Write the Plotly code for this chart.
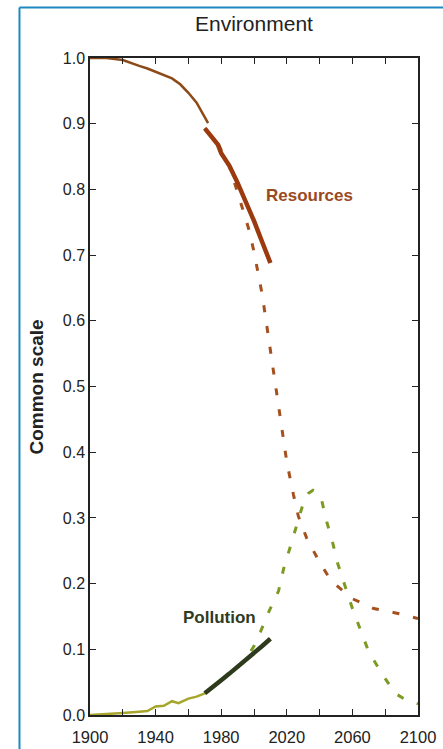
import plotly.graph_objects as go

# Resources
res_hist_years = [1900, 1910, 1920, 1925, 1930, 1935, 1940, 1945, 1950, 1955, 1960, 1965, 1972]
res_hist_vals = [1.0, 1.0, 0.997, 0.992, 0.988, 0.984, 0.979, 0.975, 0.969, 0.960, 0.947, 0.932, 0.901]
res_data_years = [1970, 1975, 1978, 1980, 1985, 1990, 1995, 2000, 2005, 2010]
res_data_vals = [0.893, 0.876, 0.868, 0.855, 0.836, 0.810, 0.783, 0.752, 0.720, 0.688]
res_model_years = [1970, 1978, 1985, 1989, 1993, 1997, 2000, 2005, 2010, 2015, 2020, 2024, 2027,
                   2032, 2039, 2047, 2060, 2073, 2087, 2100]
res_model_vals = [0.893, 0.870, 0.835, 0.804, 0.771, 0.738, 0.705, 0.640, 0.555, 0.470, 0.385,
                  0.336, 0.303, 0.270, 0.237, 0.204, 0.177, 0.162, 0.155, 0.147]

# Pollution
pol_hist_years = [1900, 1910, 1920, 1930, 1935, 1940, 1945, 1950, 1954, 1960, 1965, 1970]
pol_hist_vals = [0.0, 0.001, 0.003, 0.005, 0.006, 0.013, 0.014, 0.021, 0.018, 0.025, 0.028, 0.033]
pol_data_years = [1970, 1975, 1980, 1985, 1990, 1995, 2000, 2005, 2010]
pol_data_vals = [0.033, 0.042, 0.053, 0.063, 0.073, 0.084, 0.095, 0.105, 0.116]
pol_model_years = [1970, 1980, 1990, 1996, 2000, 2004, 2009, 2015, 2018, 2022, 2026, 2030, 2033,
                   2036, 2039, 2041, 2044, 2048, 2051, 2055, 2060, 2065, 2070, 2078, 2086, 2092, 2100]
pol_model_vals = [0.033, 0.052, 0.072, 0.089, 0.105, 0.127, 0.157, 0.189, 0.222, 0.255, 0.288,
                  0.322, 0.337, 0.342, 0.338, 0.330, 0.297, 0.262, 0.231, 0.200, 0.162, 0.129,
                  0.096, 0.063, 0.033, 0.024, 0.017]

x_tick_vals = [1900, 1920, 1940, 1960, 1980, 2000, 2020, 2040, 2060, 2080, 2100]
x_tick_text = ["1900", "", "1940", "", "1980", "", "2020", "", "2060", "", "2100"]
y_tick_vals = [0.0, 0.1, 0.2, 0.3, 0.4, 0.5, 0.6, 0.7, 0.8, 0.9, 1.0]

fig = go.Figure()

fig.add_trace(go.Scatter(x=res_model_years, y=res_model_vals, mode="lines",
                         line=dict(color="#a4501f", width=3, dash="7px,14px"), hoverinfo="skip"))
fig.add_trace(go.Scatter(x=pol_model_years, y=pol_model_vals, mode="lines",
                         line=dict(color="#7d9a22", width=3, dash="7px,14px"), hoverinfo="skip"))
fig.add_trace(go.Scatter(x=res_hist_years, y=res_hist_vals, mode="lines",
                         line=dict(color="#8c4a18", width=2.5), hoverinfo="skip"))
fig.add_trace(go.Scatter(x=res_data_years, y=res_data_vals, mode="lines",
                         line=dict(color="#9a3a0e", width=4.5), hoverinfo="skip"))
fig.add_trace(go.Scatter(x=pol_hist_years, y=pol_hist_vals, mode="lines",
                         line=dict(color="#a6a52c", width=2.5), hoverinfo="skip"))
fig.add_trace(go.Scatter(x=pol_data_years, y=pol_data_vals, mode="lines",
                         line=dict(color="#2e3a1c", width=4.5), hoverinfo="skip"))

fig.update_layout(
    width=443, height=749,
    margin=dict(l=90, r=25, t=58, b=34, autoexpand=False),
    paper_bgcolor="white", plot_bgcolor="white",
    showlegend=False,
    font=dict(family="Liberation Sans, Arial, sans-serif", size=16, color="#222222"),
    xaxis=dict(range=[1900, 2100], tickvals=x_tick_vals, ticktext=x_tick_text,
               ticks="inside", ticklen=6, tickwidth=1.2, tickcolor="#222",
               showline=True, linecolor="#222", linewidth=1.5, mirror="allticks",
               showgrid=False, zeroline=False, tickfont=dict(size=16.5),
               ticklabelstandoff=6, automargin=False),
    yaxis=dict(range=[0, 1], tickvals=y_tick_vals, tickformat=".1f",
               ticks="inside", ticklen=6, tickwidth=1.2, tickcolor="#222",
               showline=True, linecolor="#222", linewidth=1.5, mirror="allticks",
               showgrid=False, zeroline=False, tickfont=dict(size=16), automargin=False),
    annotations=[
        dict(text="Environment", x=0.5, y=1.0518, xref="paper", yref="paper",
             showarrow=False, font=dict(size=21, color="#222"), xanchor="center", yanchor="middle"),
        dict(text="<b>Common scale</b>", x=-0.1616, y=0.5, xref="paper", yref="paper",
             showarrow=False, textangle=-90, font=dict(size=19, color="#222"),
             xanchor="center", yanchor="middle"),
        dict(text="<b>Resources</b>", x=2034, y=0.791, xref="x", yref="y",
             showarrow=False, font=dict(size=17, color="#9a4a1e"), xanchor="center", yanchor="middle"),
        dict(text="<b>Pollution</b>", x=1979, y=0.149, xref="x", yref="y",
             showarrow=False, font=dict(size=17, color="#2f3a1e"), xanchor="center", yanchor="middle"),
    ],
    shapes=[
        dict(type="line", xref="paper", yref="paper", x0=-0.215, x1=-0.215, y0=-0.2, y1=1.077,
             line=dict(color="#1f88c2", width=2)),
        dict(type="line", xref="paper", yref="paper", x0=-0.215, x1=1.2, y0=1.077, y1=1.077,
             line=dict(color="#1f88c2", width=2)),
    ],
)

fig.write_html("out.html", config={"displayModeBar": False},
               post_script="document.body.style.margin='0';document.body.style.overflow='hidden';")
